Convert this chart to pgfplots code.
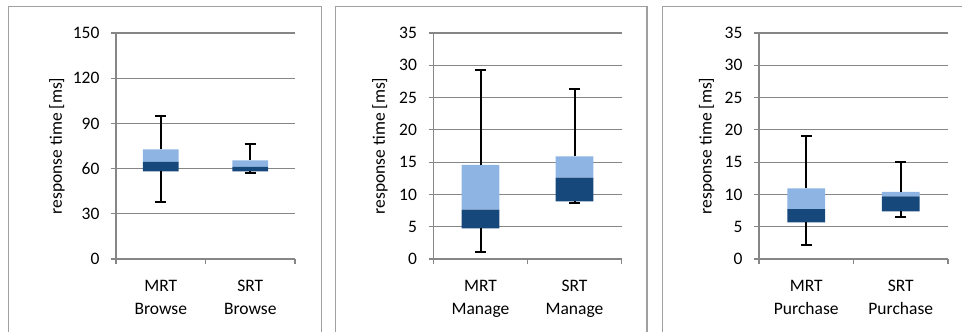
\documentclass[border=0pt]{standalone}
\usepackage{fontspec}
\setmainfont{Carlito}
\usepackage{pgfplots}
\pgfplotsset{compat=1.18}
\definecolor{lightbox}{RGB}{141,180,226}
\definecolor{darkbox}{RGB}{23,72,124}
\definecolor{gridgray}{RGB}{134,134,134}
\definecolor{bordergray}{RGB}{160,160,160}
\newcommand{\chartfont}{\fontsize{17.5}{22.5}\selectfont}
\pgfplotsset{
  panel/.style={
    scale only axis, anchor=south west, height=226pt,
    ybar stacked, bar width=0.4,
    xmin=-0.5, xmax=1.5, ymin=0,
    enlarge x limits=false, enlarge y limits=false,
    axis lines*=left,
    axis line style={draw=gridgray, line width=1.2pt},
    ymajorgrids, grid style={draw=gridgray, line width=1.2pt},
    xtick={-0.5,0.5,1.5}, x tick label as interval,
    tick align=outside, major tick length=5pt,
    tick style={draw=gridgray, line width=1.2pt},
    /pgf/number format/assume math mode=true,
    tick label style={font=\chartfont, text=black},
    yticklabel style={xshift=-8pt},
    xticklabel style={align=center, yshift=-13pt},
    label style={font=\chartfont},
    ylabel={response time [ms]},
  },
  whisk/.style={error bars/.cd, y dir=#1, y explicit,
    error bar style={draw=black, line width=2pt},
    error mark options={draw=black, line width=1.8pt, mark size=5.5pt, rotate=90}},
}
\begin{document}
\begin{tikzpicture}[x=1pt,y=1pt]
\useasboundingbox (0,0) rectangle (962,332);
\draw[bordergray, line width=1.3pt] (8.7,-20) -- (8.7,325.5) -- (321.7,325.5) -- (321.7,-20);
\draw[bordergray, line width=1.3pt] (335.5,-20) -- (335.5,325.5) -- (647,325.5) -- (647,-20);
\draw[bordergray, line width=1.3pt] (662.3,-20) -- (662.3,325.5) -- (1000,325.5);

% Panel 1: Browse
\begin{axis}[panel, at={(116pt,73pt)}, width=179pt, ymax=150, ytick={0,30,...,150},
  xticklabels={MRT\\Browse, SRT\\Browse},
  ylabel style={at={(axis description cs:-0.33,0.5)}, anchor=center}]
\addplot[draw=none, fill=none, whisk=minus] coordinates {(0,58.2) -= (0,20.2) (1,58.2) -= (0,0.9)};
\addplot[draw=none, fill=darkbox] coordinates {(0,6.2) (1,3.0)};
\addplot[draw=none, fill=lightbox, whisk=plus] coordinates {(0,8.4) += (0,22.3) (1,4.3) += (0,10.8)};
\end{axis}

% Panel 2: Manage
\begin{axis}[panel, at={(433.5pt,73pt)}, width=188pt, ymax=35, ytick={0,5,...,35},
  xticklabels={MRT\\Manage, SRT\\Manage},
  ylabel style={at={(axis description cs:-0.285,0.5)}, anchor=center}]
\addplot[draw=none, fill=none, whisk=minus] coordinates {(0,4.74) -= (0,3.71) (1,8.92) -= (0,0.25)};
\addplot[draw=none, fill=darkbox] coordinates {(0,2.89) (1,3.68)};
\addplot[draw=none, fill=lightbox, whisk=plus] coordinates {(0,6.93) += (0,14.74) (1,3.3) += (0,10.4)};
\end{axis}

% Panel 3: Purchase
\begin{axis}[panel, at={(759pt,73pt)}, width=189pt, ymax=35, ytick={0,5,...,35},
  xticklabels={MRT\\Purchase, SRT\\Purchase},
  ylabel style={at={(axis description cs:-0.277,0.5)}, anchor=center}]
\addplot[draw=none, fill=none, whisk=minus] coordinates {(0,5.67) -= (0,3.47) (1,7.37) -= (0,0.82)};
\addplot[draw=none, fill=darkbox] coordinates {(0,2.07) (1,2.33)};
\addplot[draw=none, fill=lightbox, whisk=plus] coordinates {(0,3.19) += (0,8.06) (1,0.7) += (0,4.6)};
\end{axis}
\end{tikzpicture}
\end{document}
